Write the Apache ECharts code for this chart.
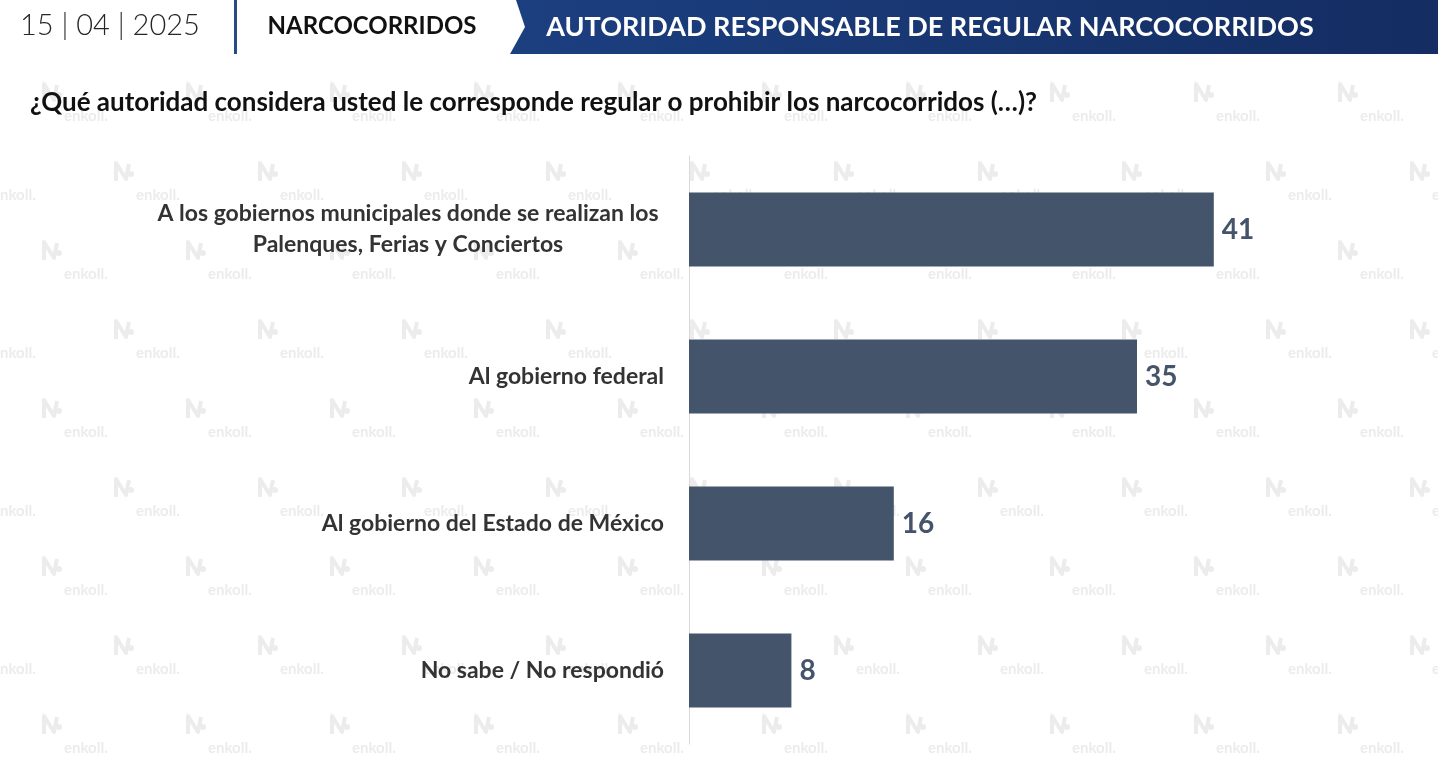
<!DOCTYPE html>
<html>
<head>
<meta charset="utf-8">
<script src="https://cdn.jsdelivr.net/npm/echarts@6/dist/echarts.min.js"></script>
<style>
  html, body { margin: 0; padding: 0; background: #fff; }
  #chart { width: 1438px; height: 760px; }
</style>
</head>
<body>
<div id="chart"></div>
<script>
// datos
const categorias = [
  'A los gobiernos municipales donde se realizan los\nPalenques, Ferias y Conciertos',
  'Al gobierno federal',
  'Al gobierno del Estado de México',
  'No sabe / No respondió',
];
const valores = [41, 35, 16, 8];
const fecha = '15 | 04 | 2025';
const seccion = 'NARCOCORRIDOS';
const titulo = 'AUTORIDAD RESPONSABLE DE REGULAR NARCOCORRIDOS';
const pregunta = '¿Qué autoridad considera usted le corresponde regular o prohibir los narcocorridos (…)?';

const FONT = 'Lato, "Open Sans", sans-serif';
const C = { barra: '#44546a', texto: '#333333', eje: '#d9d9d9', marca: '#ececec' };

// logo simplificado de la marca de agua
function logo(ctx, x, y) {
  ctx.lineWidth = 4;
  ctx.lineJoin = 'round';
  ctx.beginPath();
  ctx.moveTo(x + 3, y + 21);
  ctx.lineTo(x + 3, y + 3);
  ctx.lineTo(x + 13, y + 19);
  ctx.lineTo(x + 16, y + 4);
  ctx.stroke();
  ctx.beginPath();
  ctx.arc(x + 18, y + 14, 3, 0, Math.PI * 2);
  ctx.fill();
}

// mosaico "enkoll." del fondo
function marcaAgua() {
  const W = 144, H = 158;
  const cv = document.createElement('canvas');
  cv.width = W; cv.height = H;
  const ctx = cv.getContext('2d');
  ctx.fillStyle = C.marca;
  ctx.strokeStyle = C.marca;
  ctx.font = 'bold 15px ' + FONT;
  ctx.textBaseline = 'middle';
  const pos = [[-8, 37], [64, 116]];
  for (const [px, py] of pos) {
    for (const dx of [-W, 0, W]) {
      for (const dy of [-H, 0, H]) {
        const x = px + dx, y = py + dy;
        ctx.fillText('enkoll.', x, y);
        logo(ctx, x - 23, y - 35);
      }
    }
  }
  return cv;
}

const chart = echarts.init(document.getElementById('chart'), null, { renderer: 'canvas' });

const fuenteEtiqueta = { fontFamily: FONT, fontSize: 23, fontWeight: 'bold', color: C.texto };

chart.setOption({
  backgroundColor: '#fff',
  animation: false,
  textStyle: { fontFamily: FONT },
  graphic: [
    {
      type: 'rect', z: -10, silent: true,
      shape: { x: 0, y: 58, width: 1438, height: 702 },
      style: { fill: { image: marcaAgua(), repeat: 'repeat' } },
    },
    {
      type: 'text', x: 20, y: 26,
      style: { text: fecha, font: '300 29px ' + FONT, fill: '#262626', verticalAlign: 'middle' },
    },
    {
      type: 'rect', shape: { x: 234, y: 0, width: 3, height: 54 },
      style: { fill: '#2a4a86' },
    },
    {
      type: 'text', x: 372, y: 26,
      style: { text: seccion, font: 'bold 24px ' + FONT, fill: '#111', align: 'center', verticalAlign: 'middle' },
    },
    {
      type: 'polygon',
      shape: { points: [[516, 0], [1438, 0], [1438, 54], [510, 54], [525, 27]] },
      style: {
        fill: new echarts.graphic.LinearGradient(0, 0, 1, 0, [
          { offset: 0, color: '#1c3f80' },
          { offset: 1, color: '#142d62' },
        ]),
      },
    },
    {
      type: 'text', x: 930, y: 27,
      style: { text: titulo, font: 'bold 27px ' + FONT, fill: '#fff', align: 'center', verticalAlign: 'middle' },
    },
    {
      type: 'text', x: 30, y: 103,
      style: { text: pregunta, font: 'bold 26px ' + FONT, fill: '#111', verticalAlign: 'middle' },
    },
  ],
  grid: { left: 689, top: 156, width: 640, height: 588, containLabel: false },
  xAxis: { type: 'value', min: 0, max: 50, show: false },
  yAxis: {
    type: 'category',
    inverse: true,
    data: categorias,
    axisLine: { show: true, lineStyle: { color: C.eje, width: 1 } },
    axisTick: { show: false },
    splitLine: { show: false },
    axisLabel: {
      margin: 25,
      lineHeight: 31,
      ...fuenteEtiqueta,
      formatter(v) {
        if (v.indexOf('\n') < 0) return '{r|' + v + '}';
        return v.split('\n').map(l => '{c|' + l + '}').join('\n');
      },
      rich: {
        r: { ...fuenteEtiqueta },
        c: { ...fuenteEtiqueta, width: 512, align: 'center', lineHeight: 31 },
      },
    },
  },
  series: [{
    type: 'bar',
    data: valores,
    barWidth: 74,
    itemStyle: { color: C.barra },
    label: {
      show: true,
      position: 'right',
      distance: 8,
      fontFamily: FONT,
      fontSize: 28,
      fontWeight: 'bold',
      color: C.barra,
    },
  }],
});
</script>
</body>
</html>
